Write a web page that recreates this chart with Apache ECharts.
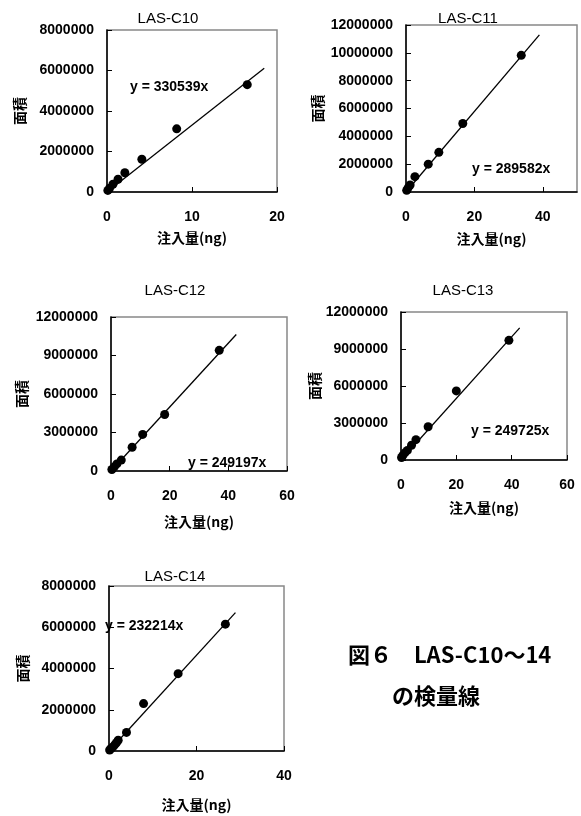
<!DOCTYPE html>
<html>
<head>
<meta charset="utf-8">
<script src="https://cdn.jsdelivr.net/npm/echarts@6/dist/echarts.min.js"></script>
<style>
html,body{margin:0;padding:0;background:#fff;}
#c{width:581px;height:816px;}
</style>
</head>
<body>
<div id="c"></div>
<script>
// ---- data ----
const panelNames = ['LAS-C10', 'LAS-C11', 'LAS-C12', 'LAS-C13', 'LAS-C14'];
const c10X = [0.1, 0.3, 0.7, 1.3, 2.1, 4.1, 8.2, 16.5];
const c10Y = [80000, 180000, 380000, 630000, 950000, 1620000, 3120000, 5300000];
const c11X = [0.2, 0.6, 1.2, 2.6, 6.5, 9.6, 16.6, 33.7];
const c11Y = [120000, 300000, 500000, 1100000, 2000000, 2850000, 4920000, 9820000];
const c12X = [0.3, 1.1, 2.0, 3.5, 7.2, 10.8, 18.3, 36.9];
const c12Y = [120000, 320000, 550000, 850000, 1850000, 2850000, 4400000, 9400000];
const c13X = [0.2, 0.6, 1.4, 2.3, 3.8, 5.4, 9.8, 20.0, 39.0];
const c13Y = [200000, 350000, 580000, 780000, 1200000, 1650000, 2700000, 5600000, 9700000];
const c14X = [0.15, 0.5, 0.9, 1.3, 1.7, 2.1, 4.0, 7.9, 15.8, 26.6];
const c14Y = [50000, 120000, 200000, 300000, 400000, 520000, 900000, 2300000, 3750000, 6150000];
const slopes = [330539, 289582, 249197, 249725, 232214];
const lineEndX = [18.5, 39, 42.7, 42.9, 28.9];
const xMax = [20, 50, 60, 60, 40];
const xInterval = [10, 20, 20, 20, 20];
const yMax = [8000000, 12000000, 12000000, 12000000, 8000000];
const yInterval = [2000000, 2000000, 3000000, 3000000, 2000000];
const xAxisName = '注入量(ng)';
const yAxisName = '面積';
const captionLine1 = '図６　LAS-C10～14';
const captionLine2 = 'の検量線';

const xs = [c10X, c11X, c12X, c13X, c14X];
const ys = [c10Y, c11Y, c12Y, c13Y, c14Y];

// ---- layout ----
const grids = [
  {left: 107, top: 30, width: 170, height: 162},
  {left: 406, top: 25, width: 171, height: 167},
  {left: 111, top: 317, width: 176, height: 154},
  {left: 401, top: 312, width: 166, height: 148},
  {left: 109, top: 586, width: 175, height: 165}
];
const titlePos = [[163, 6], [463, 6], [170, 278], [458, 278], [170, 564]];
const eqPos = [[125, 75], [467, 157], [183, 451], [466, 419], [100, 614]];
const xNameGap = [39, 40, 44, 41, 47];
const yNameGap = [80, 81, 82, 78, 79];

const labelFont = 'Liberation Sans, Arial, sans-serif';
const cjkFont = 'Noto Sans CJK JP, sans-serif';

const titles = [];
panelNames.forEach((n, i) => {
  titles.push({
    text: n, left: titlePos[i][0], top: titlePos[i][1], textAlign: 'center',
    textStyle: {fontFamily: labelFont, fontSize: 15, fontWeight: 'normal', color: '#000'}
  });
  titles.push({
    text: 'y = ' + slopes[i] + 'x', left: eqPos[i][0], top: eqPos[i][1],
    textStyle: {fontFamily: labelFont, fontSize: 14, fontWeight: 'bold', color: '#000'}
  });
});

const axisCommon = {
  axisLine: {show: true, onZero: false, lineStyle: {color: '#000', width: 1.5}},
  axisTick: {show: true, inside: true, length: 5, lineStyle: {color: '#000', width: 1}},
  splitLine: {show: false}
};

const xAxes = grids.map((g, i) => Object.assign({}, axisCommon, {
  type: 'value', gridIndex: i, min: 0, max: xMax[i], interval: xInterval[i],
  name: xAxisName, nameLocation: 'middle', nameGap: xNameGap[i],
  nameTextStyle: {fontFamily: cjkFont, fontSize: 14, fontWeight: 'bold', color: '#000'},
  axisLabel: {
    margin: 18, showMaxLabel: xMax[i] % xInterval[i] === 0,
    fontFamily: labelFont, fontSize: 14, fontWeight: 'bold', color: '#000',
    formatter: v => String(v)
  }
}));
const yAxes = grids.map((g, i) => Object.assign({}, axisCommon, {
  type: 'value', gridIndex: i, min: 0, max: yMax[i], interval: yInterval[i],
  name: yAxisName, nameLocation: 'middle', nameGap: yNameGap[i], nameRotate: 90,
  nameTextStyle: {fontFamily: cjkFont, fontSize: 14, fontWeight: 'bold', color: '#000'},
  axisLabel: {
    margin: 13, fontFamily: labelFont, fontSize: 14, fontWeight: 'bold', color: '#000',
    formatter: v => String(v)
  }
}));

const series = [];
xs.forEach((xArr, i) => {
  series.push({
    type: 'line', xAxisIndex: i, yAxisIndex: i, symbol: 'none', silent: true,
    lineStyle: {color: '#000', width: 1.3},
    data: [[0, 0], [lineEndX[i], slopes[i] * lineEndX[i]]],
    z: 2
  });
  series.push({
    type: 'scatter', xAxisIndex: i, yAxisIndex: i, symbol: 'circle', symbolSize: 9,
    itemStyle: {color: '#000', opacity: 1},
    data: xArr.map((x, k) => [x, ys[i][k]]),
    z: 3
  });
});

const option = {
  backgroundColor: '#fff',
  animation: false,
  title: titles,
  grid: grids.map(g => Object.assign({show: true, borderColor: '#888', borderWidth: 1.5, backgroundColor: 'transparent'}, g)),
  xAxis: xAxes,
  yAxis: yAxes,
  series: series,
  graphic: [
    {type: 'text', left: 348, top: 644, style: {text: captionLine1, font: 'bold 22px "Noto Sans CJK JP", sans-serif', fill: '#000'}},
    {type: 'text', left: 392, top: 685, style: {text: captionLine2, font: 'bold 22px "Noto Sans CJK JP", sans-serif', fill: '#000'}}
  ]
};

const chart = echarts.init(document.getElementById('c'), null, {renderer: 'canvas'});
chart.setOption(option);
</script>
</body>
</html>
